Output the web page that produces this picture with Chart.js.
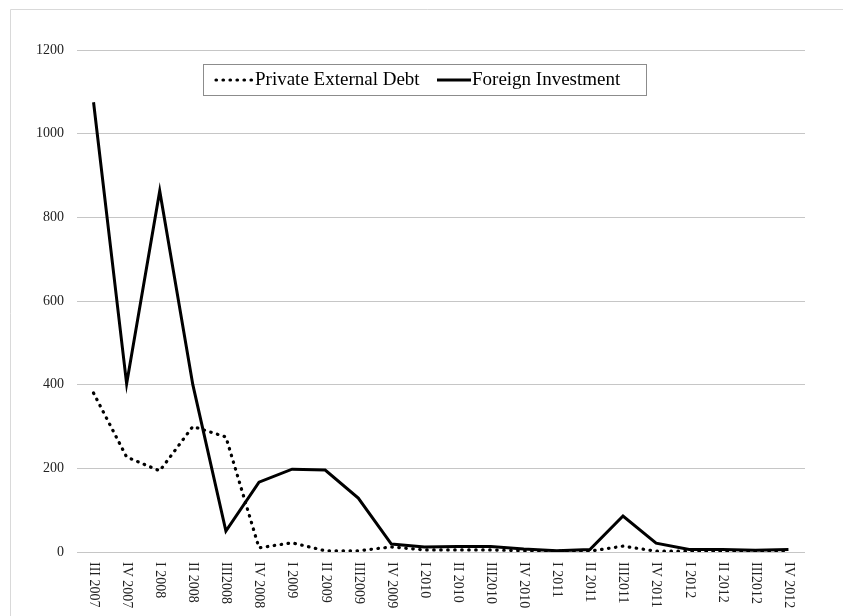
<!DOCTYPE html>
<html>
<head>
<meta charset="utf-8">
<script src="https://cdn.jsdelivr.net/npm/chart.js@4/dist/chart.umd.min.js"></script>
<style>
    html, body { margin: 0; padding: 0; background: #fff; }
    #wrap { width: 843px; height: 616px; position: relative; }
</style>
</head>
<body>
<div id="wrap"><canvas id="debtChart" width="843" height="616"></canvas></div>
<script>
// dados
const quarters = ['III 2007', 'IV 2007', 'I 2008', 'II 2008', 'III2008', 'IV 2008', 'I 2009', 'II 2009',
    'III2009', 'IV 2009', 'I 2010', 'II 2010', 'III2010', 'IV 2010', 'I 2011', 'II 2011',
    'III2011', 'IV 2011', 'I 2012', 'II 2012', 'III2012', 'IV 2012'];
const privateExternalDebt = [380, 227, 194, 300, 275, 10, 22, 3, 3, 12, 5, 5, 5, 3, 2, 2, 14, 2, 2, 2, 2, 3];
const foreignInvestment = [1075, 402, 863, 400, 50, 167, 198, 196, 129, 19, 12, 13, 13, 7, 3, 6, 86, 21, 6, 6, 4, 6];
const yTicks = [0, 200, 400, 600, 800, 1000, 1200];

const serif = '"Liberation Serif", "Times New Roman", serif';

// moldura, legenda e rótulos do eixo x
const decorPlugin = {
    id: 'decor',
    beforeDraw(chart) {
        const ctx = chart.ctx;
        ctx.save();
        ctx.strokeStyle = '#d9d9d9';
        ctx.lineWidth = 1;
        ctx.beginPath();
        ctx.moveTo(10.5, 700);
        ctx.lineTo(10.5, 9.5);
        ctx.lineTo(900, 9.5);
        ctx.stroke();
        ctx.restore();
    },
    afterDraw(chart) {
        const ctx = chart.ctx;
        const xs = chart.scales.x;
        ctx.save();
        ctx.font = '14px ' + serif;
        ctx.fillStyle = '#222';
        ctx.textAlign = 'left';
        ctx.textBaseline = 'middle';
        quarters.forEach((q, i) => {
            ctx.save();
            ctx.translate(xs.getPixelForValue(i), 562);
            ctx.rotate(Math.PI / 2);
            ctx.fillText(q, 0, 0);
            ctx.restore();
        });

        // legenda
        ctx.fillStyle = '#fff';
        ctx.fillRect(203.5, 64.5, 443, 31);
        ctx.strokeStyle = '#8c8c8c';
        ctx.lineWidth = 1;
        ctx.strokeRect(203.5, 64.5, 443, 31);

        ctx.strokeStyle = '#000';
        ctx.lineWidth = 3.2;
        ctx.lineCap = 'round';
        ctx.setLineDash([0.5, 6.5]);
        ctx.beginPath();
        ctx.moveTo(216, 80);
        ctx.lineTo(252, 80);
        ctx.stroke();

        ctx.setLineDash([]);
        ctx.lineCap = 'butt';
        ctx.lineWidth = 3;
        ctx.beginPath();
        ctx.moveTo(437, 80);
        ctx.lineTo(471, 80);
        ctx.stroke();

        ctx.font = '19px ' + serif;
        ctx.fillStyle = '#000';
        ctx.fillText('Private External Debt', 255, 80);
        ctx.fillText('Foreign Investment', 472, 80);
        ctx.restore();
    }
};

new Chart(document.getElementById('debtChart'), {
    type: 'line',
    data: {
        labels: quarters,
        datasets: [
            {
                label: 'Private External Debt',
                data: privateExternalDebt,
                borderColor: '#000',
                borderWidth: 3.2,
                borderDash: [0.5, 6.5],
                borderCapStyle: 'round',
                pointRadius: 0,
                tension: 0
            },
            {
                label: 'Foreign Investment',
                data: foreignInvestment,
                borderColor: '#000',
                borderWidth: 3,
                pointRadius: 0,
                tension: 0
            }
        ]
    },
    options: {
        responsive: false,
        animation: false,
        devicePixelRatio: 1,
        layout: { padding: { top: 50, right: 38, bottom: 0, left: 0 } },
        plugins: {
            legend: { display: false },
            tooltip: { enabled: false }
        },
        scales: {
            x: {
                offset: true,
                grid: { display: false },
                border: { display: false },
                ticks: { display: false },
                afterFit: (scale) => { scale.height = 64; }
            },
            y: {
                min: 0,
                max: 1200,
                afterBuildTicks: (scale) => { scale.ticks = yTicks.map(v => ({ value: v })); },
                grid: { color: '#c6c6c6', lineWidth: 1, drawTicks: false },
                border: { display: false },
                ticks: {
                    padding: 13,
                    color: '#222',
                    font: { family: serif, size: 14 },
                    callback: (v) => String(v)
                },
                afterFit: (scale) => { scale.width = 77; }
            }
        }
    },
    plugins: [decorPlugin]
});
</script>
</body>
</html>
